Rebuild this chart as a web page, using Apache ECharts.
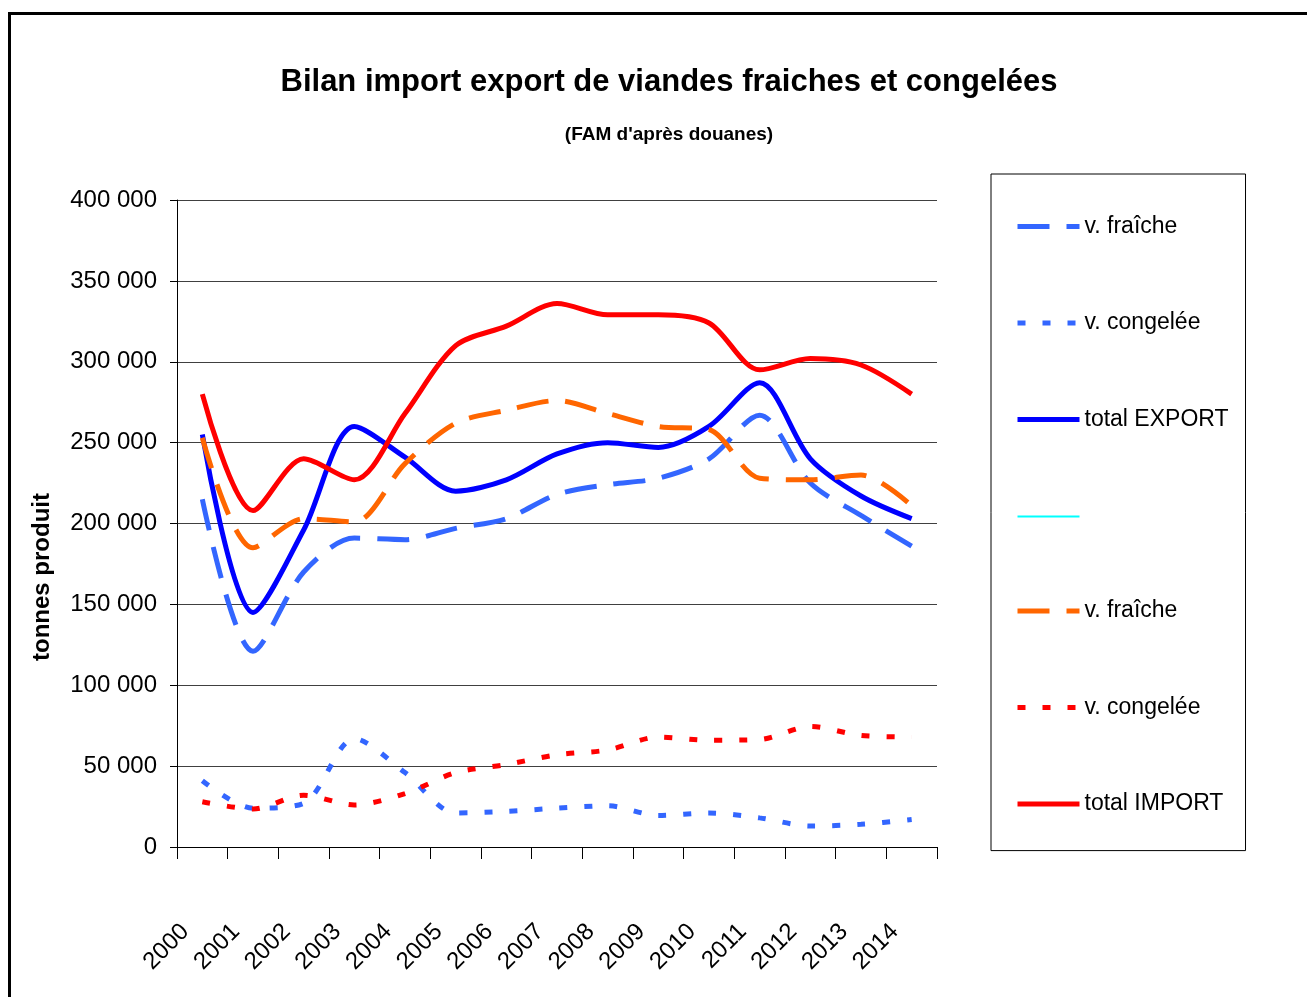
<!DOCTYPE html>
<html>
<head>
<meta charset="utf-8">
<script src="https://cdn.jsdelivr.net/npm/echarts@6/dist/echarts.min.js"></script>
<style>
html,body{margin:0;padding:0;background:#fff;}
#chart{width:1307px;height:997px;}
</style>
</head>
<body>
<div id="chart"></div>
<script>
var years = ['2000','2001','2002','2003','2004','2005','2006','2007','2008','2009','2010','2011','2012','2013','2014'];
var exportFraiche  = [215000,121000,170000,191000,190000,197000,203000,218000,224000,228000,240000,267000,225000,205000,186000];
var exportCongelee = [41000,24000,27000,67000,46000,21000,22000,24000,25500,19500,21000,18000,13000,14000,17000];
var totalExport    = [255000,145000,196000,260000,241000,220000,227000,243000,250000,247000,260000,287000,240000,217000,203000];
var blankSeries    = [];
var importFraiche  = [253000,185000,203000,201000,237000,262000,270000,276000,268000,260000,258000,228000,227000,230000,211000];
var importCongelee = [28000,23500,32000,26000,33000,46000,51000,57000,60000,68000,66000,66500,74500,69000,68000];
var totalImport    = [280000,208000,240000,227000,268000,310000,322000,336000,329000,329000,324000,295000,302000,298000,280000];
var legendNames = ['v. fraîche','v. congelée','total EXPORT',' ','v. fraîche ','v. congelée ','total IMPORT'];

var FONT = "'Liberation Sans',Arial,sans-serif";
var SM = 0.3;

function mk(name, data, color, width, type){
  return {
    name: name, type: 'line', data: data, smooth: SM, symbol: 'none',
    lineStyle: {color: color, width: width, type: type, cap: 'butt'},
    itemStyle: {color: color}
  };
}

var chart = echarts.init(document.getElementById('chart'));
chart.setOption({
  animation: false,
  backgroundColor: '#fff',
  title: [
    {text: 'Bilan import export de viandes fraiches et congelées', left: 664, textAlign: 'center', top: 62,
     textStyle: {fontFamily: FONT, fontWeight: 'bold', fontSize: 31, color: '#000'}},
    {text: "(FAM d'après douanes)", left: 664, textAlign: 'center', top: 120,
     textStyle: {fontFamily: FONT, fontWeight: 'bold', fontSize: 19, color: '#000'}}
  ],
  graphic: [
    {type: 'rect', shape: {x: 9.5, y: 13.5, width: 1320, height: 1010}, style: {fill: 'none', stroke: '#000', lineWidth: 3}, silent: true},
    {type: 'text', x: 42, y: 577, rotation: Math.PI/2,
     style: {text: 'tonnes produit', font: "bold 24px 'Liberation Sans',Arial,sans-serif",
             fill: '#000', align: 'center', verticalAlign: 'middle', textAlign: 'center', textVerticalAlign: 'middle'}}
  ],
  legend: {
    orient: 'vertical', left: 991, top: 174,
    padding: [41, 17, 35, 24],
    itemWidth: 62, itemHeight: 24, itemGap: 73.5,
    borderColor: '#000', borderWidth: 1,
    data: legendNames,
    formatter: function(n){ return n.trim(); },
    textStyle: {fontFamily: FONT, fontSize: 23, color: '#000', width: 144},
    itemStyle: {opacity: 0},
    lineStyle: {width: 'inherit'},
    selectedMode: false
  },
  grid: {left: 177, right: 370, top: 200, bottom: 150, containLabel: false},
  xAxis: {
    type: 'category', data: years, boundaryGap: true,
    axisLine: {show: true, lineStyle: {color: '#000', width: 1}},
    axisTick: {show: true, length: 12, alignWithLabel: false, interval: 0, lineStyle: {color: '#000'}},
    axisLabel: {interval: 0, rotate: 45, margin: 64, padding: [0, 24, 0, 0], fontFamily: FONT, fontSize: 24, color: '#000'},
    splitLine: {show: false}
  },
  yAxis: {
    type: 'value', min: 0, max: 400000, interval: 50000,
    axisLine: {show: true, lineStyle: {color: '#000', width: 1}},
    axisTick: {show: true, length: 7, lineStyle: {color: '#000'}},
    axisLabel: {margin: 20, fontFamily: FONT, fontSize: 24, color: '#000',
      formatter: function(v){ return String(v).replace(/\B(?=(\d{3})+(?!\d))/g, ' '); }},
    splitLine: {show: true, lineStyle: {color: '#404040', width: 1}}
  },
  series: [
    mk(legendNames[0], exportFraiche, '#3366FF', 5, [32, 17]),
    mk(legendNames[1], exportCongelee, '#3366FF', 5, [8, 17]),
    mk(legendNames[2], totalExport, '#0000FF', 5, 'solid'),
    mk(legendNames[3], blankSeries, '#00FFFF', 2, 'solid'),
    mk(legendNames[4], importFraiche, '#FF6600', 5, [32, 17]),
    mk(legendNames[5], importCongelee, '#FF0000', 5, [8, 17]),
    mk(legendNames[6], totalImport, '#FF0000', 5, 'solid')
  ]
});
</script>
</body>
</html>
